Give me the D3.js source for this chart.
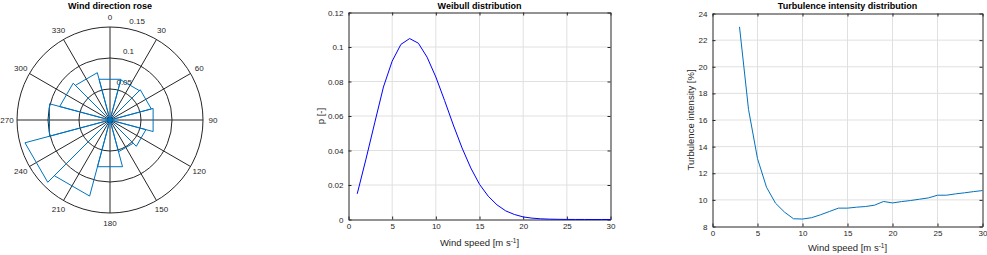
<!DOCTYPE html>
<html>
<head>
<meta charset="utf-8">
<script src="https://cdn.jsdelivr.net/npm/d3@7"></script>
<style>
  html, body { margin: 0; padding: 0; background: #fff; }
  svg { display: block; font-family: "Liberation Sans", Arial, sans-serif; }
  .tick-label { font-size: 8px; fill: #262626; }
  .axis-label { font-size: 9.5px; fill: #262626; }
  .title { font-size: 9px; font-weight: bold; fill: #000; }
</style>
</head>
<body>
<div id="chart"></div>
<script>
// Wind direction rose: sector centres (deg) and relative frequency
const roseDirections = [0, 30, 60, 90, 120, 150, 180, 210, 240, 270, 300, 330];
const roseFrequency = [0.068, 0.067, 0.069, 0.072, 0.060, 0.053, 0.078, 0.127, 0.142, 0.101, 0.084, 0.079];
const roseRings = [0.05, 0.1, 0.15];
const roseRingLabels = ["0.05", "0.1", "0.15"];
const roseSpokes = [0, 30, 60, 90, 120, 150, 180, 210, 240, 270, 300, 330];

// Weibull distribution
const weibullSpeed = d3.range(1, 31);
const weibullProb = [0.0149, 0.0350, 0.0560, 0.0768, 0.0918, 0.1015, 0.1049, 0.1022, 0.0941, 0.0826,
  0.0690, 0.0548, 0.0415, 0.0299, 0.0204, 0.0135, 0.0085, 0.0050, 0.0029, 0.0015,
  0.0008, 0.0004, 0.0002, 0.0001, 0.00004, 0.00002, 0.00001, 0, 0, 0];
const weibullXTicks = [0, 5, 10, 15, 20, 25, 30];
const weibullYTicks = [0, 0.02, 0.04, 0.06, 0.08, 0.1, 0.12];
const weibullYLabels = ["0", "0.02", "0.04", "0.06", "0.08", "0.1", "0.12"];

// Turbulence intensity
const turbSpeed = d3.range(3, 31);
const turbIntensity = [23.0, 16.8, 13.1, 10.95, 9.75, 9.08, 8.58, 8.56, 8.66, 8.88,
  9.13, 9.38, 9.38, 9.45, 9.5, 9.6, 9.88, 9.77, 9.87, 9.95,
  10.05, 10.15, 10.35, 10.35, 10.45, 10.53, 10.62, 10.7];
const turbXTicks = [0, 5, 10, 15, 20, 25, 30];
const turbYTicks = [8, 10, 12, 14, 16, 18, 20, 22, 24];

const width = 987, height = 255;
const axisColour = "#262626";
const gridColour = "#e0e0e0";

const svg = d3.select("#chart").append("svg")
  .attr("width", width)
  .attr("height", height);

// ---------- polar rose ----------
const polarCentre = { x: 110, y: 120 };
const rScale = d3.scaleLinear().domain([0, 0.15]).range([0, 93]);
const toXY = (deg, r) => {
  const a = deg * Math.PI / 180;
  return [polarCentre.x + r * Math.sin(a), polarCentre.y - r * Math.cos(a)];
};

const polar = svg.append("g").attr("class", "polar");

polar.selectAll("circle.ring")
  .data(roseRings)
  .enter()
  .append("circle")
  .attr("class", "ring")
  .attr("cx", polarCentre.x)
  .attr("cy", polarCentre.y)
  .attr("r", d => rScale(d))
  .attr("fill", "none")
  .attr("stroke", axisColour)
  .attr("stroke-width", 1);

polar.selectAll("line.spoke")
  .data(roseSpokes)
  .enter()
  .append("line")
  .attr("class", "spoke")
  .attr("x1", polarCentre.x)
  .attr("y1", polarCentre.y)
  .attr("x2", d => toXY(d, rScale(0.15))[0])
  .attr("y2", d => toXY(d, rScale(0.15))[1])
  .attr("stroke", axisColour)
  .attr("stroke-width", 1);

polar.selectAll("text.angle")
  .data(roseSpokes)
  .enter()
  .append("text")
  .attr("class", "tick-label angle")
  .attr("x", d => toXY(d, rScale(0.15) + 10)[0])
  .attr("y", d => toXY(d, rScale(0.15) + 10)[1])
  .attr("text-anchor", "middle")
  .attr("dominant-baseline", "central")
  .text(d => d);

polar.selectAll("text.rlabel")
  .data(roseRings)
  .enter()
  .append("text")
  .attr("class", "tick-label rlabel")
  .attr("x", d => toXY(12, rScale(d))[0])
  .attr("y", d => toXY(12, rScale(d))[1] - 5)
  .text((d, i) => roseRingLabels[i]);

// rose petals: centre -> edge -> edge -> centre
const halfWidth = 15;
polar.append("g")
  .selectAll("path")
  .data(roseDirections.map((dir, i) => ({ dir: dir, f: roseFrequency[i] })))
  .enter()
  .append("path")
  .attr("d", d => {
    const p1 = toXY(d.dir - halfWidth, rScale(d.f));
    const p2 = toXY(d.dir + halfWidth, rScale(d.f));
    return "M" + polarCentre.x + "," + polarCentre.y + "L" + p1 + "L" + p2 + "Z";
  })
  .attr("fill", "none")
  .attr("stroke", "#0072BD")
  .attr("stroke-width", 1);

svg.append("text")
  .attr("class", "title")
  .attr("x", 110)
  .attr("y", 9)
  .attr("text-anchor", "middle")
  .text("Wind direction rose");

// ---------- cartesian panels ----------
const cartesian = (box, xDomain, yDomain, xTicks, yTicks, yLabels) => {
  const g = svg.append("g");
  const x = d3.scaleLinear().domain(xDomain).range([box.left, box.right]);
  const y = d3.scaleLinear().domain(yDomain).range([box.bottom, box.top]);

  // grid
  g.append("g").selectAll("line")
    .data(xTicks.slice(1, -1))
    .enter()
    .append("line")
    .attr("x1", d => x(d)).attr("x2", d => x(d))
    .attr("y1", box.top).attr("y2", box.bottom)
    .attr("stroke", gridColour);
  g.append("g").selectAll("line")
    .data(yTicks.slice(1, -1))
    .enter()
    .append("line")
    .attr("y1", d => y(d)).attr("y2", d => y(d))
    .attr("x1", box.left).attr("x2", box.right)
    .attr("stroke", gridColour);

  const xAxis = d3.axisBottom(x).tickValues(xTicks).tickSizeInner(-3).tickSizeOuter(0).tickPadding(4);
  const yAxis = d3.axisLeft(y).tickValues(yTicks).tickSizeInner(-3).tickSizeOuter(0).tickPadding(5)
    .tickFormat((d, i) => yLabels[i]);

  g.append("g")
    .attr("transform", "translate(0," + box.bottom + ")")
    .call(xAxis);
  g.append("g")
    .attr("transform", "translate(" + box.left + ",0)")
    .call(yAxis);
  // mirrored ticks on top and right
  g.append("g")
    .attr("transform", "translate(0," + box.top + ")")
    .call(d3.axisTop(x).tickValues(xTicks).tickSizeInner(-3).tickSizeOuter(0).tickFormat(""));
  g.append("g")
    .attr("transform", "translate(" + box.right + ",0)")
    .call(d3.axisRight(y).tickValues(yTicks).tickSizeInner(-3).tickSizeOuter(0).tickFormat(""));

  g.selectAll(".domain").attr("stroke", axisColour);
  g.selectAll(".tick line").attr("stroke", axisColour);
  g.selectAll(".tick text")
    .attr("class", "tick-label")
    .attr("font-family", null)
    .attr("font-size", null)
    .attr("fill", null);
  g.selectAll("g").attr("font-family", null).attr("font-size", null);

  return { g: g, x: x, y: y };
};

const addXLabel = (g, cx, yPos) => {
  const t = g.append("text")
    .attr("class", "axis-label")
    .attr("x", cx)
    .attr("y", yPos)
    .attr("text-anchor", "middle");
  t.append("tspan").text("Wind speed [m s");
  t.append("tspan").attr("font-size", "6.5px").attr("dy", -3).text("-1");
  t.append("tspan").attr("dy", 3).text("]");
};

// Weibull
const wBox = { left: 348.5, right: 610.5, top: 12.5, bottom: 219.5 };
const w = cartesian(wBox, [0, 30], [0, 0.12], weibullXTicks, weibullYTicks, weibullYLabels);
w.g.append("path")
  .datum(weibullSpeed.map((s, i) => [s, weibullProb[i]]))
  .attr("d", d3.line().x(d => w.x(d[0])).y(d => w.y(d[1])))
  .attr("fill", "none")
  .attr("stroke", "#0000ff")
  .attr("stroke-width", 1);
svg.append("text")
  .attr("class", "title")
  .attr("x", (wBox.left + wBox.right) / 2)
  .attr("y", 9)
  .attr("text-anchor", "middle")
  .text("Weibull distribution");
addXLabel(w.g, (wBox.left + wBox.right) / 2, 246);
w.g.append("text")
  .attr("class", "axis-label")
  .attr("transform", "translate(324," + (wBox.top + wBox.bottom) / 2 + ") rotate(-90)")
  .attr("text-anchor", "middle")
  .text("p [-]");

// Turbulence
const tBox = { left: 712.5, right: 982.5, top: 13.5, bottom: 226.5 };
const t = cartesian(tBox, [0, 30], [8, 24], turbXTicks, turbYTicks, turbYTicks.map(String));
t.g.append("path")
  .datum(turbSpeed.map((s, i) => [s, turbIntensity[i]]))
  .attr("d", d3.line().x(d => t.x(d[0])).y(d => t.y(d[1])))
  .attr("fill", "none")
  .attr("stroke", "#0072BD")
  .attr("stroke-width", 1);
svg.append("text")
  .attr("class", "title")
  .attr("x", (tBox.left + tBox.right) / 2)
  .attr("y", 9)
  .attr("text-anchor", "middle")
  .text("Turbulence intensity distribution");
addXLabel(t.g, (tBox.left + tBox.right) / 2, 251);
t.g.append("text")
  .attr("class", "axis-label")
  .attr("transform", "translate(694," + (tBox.top + tBox.bottom) / 2 + ") rotate(-90)")
  .attr("text-anchor", "middle")
  .text("Turbulence intensity [%]");
</script>
</body>
</html>
